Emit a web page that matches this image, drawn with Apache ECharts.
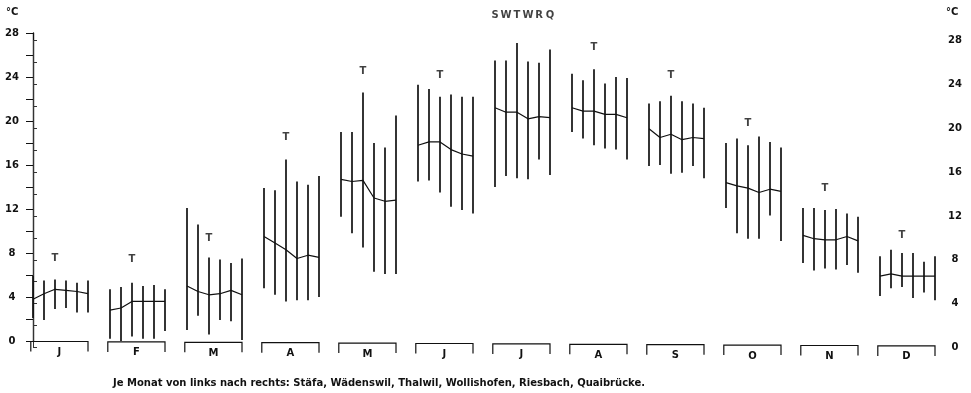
<!DOCTYPE html>
<html>
<head>
<meta charset="utf-8">
<script src="https://cdn.jsdelivr.net/npm/echarts@6/dist/echarts.min.js"></script>
<style>
  html, body { margin: 0; padding: 0; background: #fff; }
  #chart { width: 971px; height: 393px; }
</style>
</head>
<body>
<div id="chart"></div>
<script>
// Monthly water temperatures (°C) at six stations along the lake shore.
const months = ['J', 'F', 'M', 'A', 'M', 'J', 'J', 'A', 'S', 'O', 'N', 'D'];
const stations = ['Stäfa', 'Wädenswil', 'Thalwil', 'Wollishofen', 'Riesbach', 'Quaibrücke'];

// Highest value per month, one entry per station (left to right)
const tMax = [
  [5.9, 5.5, 5.6, 5.5, 5.3, 5.5],
  [4.7, 4.9, 5.3, 5.0, 5.1, 4.7],
  [12.1, 10.6, 7.6, 7.4, 7.1, 7.5],
  [13.9, 13.7, 16.5, 14.5, 14.2, 15.0],
  [19.0, 19.0, 22.6, 18.0, 17.6, 20.5],
  [23.3, 22.9, 22.2, 22.4, 22.2, 22.2],
  [25.5, 25.5, 27.1, 25.4, 25.3, 26.5],
  [24.3, 23.7, 24.7, 23.4, 24.0, 23.9],
  [21.6, 21.8, 22.3, 21.8, 21.6, 21.2],
  [18.0, 18.4, 17.8, 18.6, 18.1, 17.6],
  [12.1, 12.1, 11.9, 12.0, 11.6, 11.3],
  [7.7, 8.3, 8.0, 8.0, 7.2, 7.7]
];

// Lowest value per month
const tMin = [
  [2.1, 1.9, 2.9, 3.0, 2.6, 2.6],
  [0.2, 0.0, 0.4, 0.2, 0.2, 0.9],
  [1.0, 2.3, 0.6, 1.9, 1.8, 0.1],
  [4.8, 4.2, 3.6, 3.7, 3.7, 4.0],
  [11.3, 9.8, 8.5, 6.3, 6.1, 6.1],
  [14.5, 14.6, 13.5, 12.2, 11.9, 11.6],
  [14.0, 15.0, 14.8, 14.7, 16.5, 15.1],
  [19.0, 18.4, 17.8, 17.5, 17.4, 16.5],
  [15.9, 16.0, 15.2, 15.3, 15.9, 14.8],
  [12.1, 9.8, 9.3, 9.3, 11.4, 9.1],
  [7.1, 6.4, 6.6, 6.5, 6.9, 6.2],
  [4.1, 4.8, 4.9, 3.9, 4.4, 3.7]
];

// Monthly mean
const tMean = [
  [3.8, 4.3, 4.7, 4.6, 4.5, 4.3],
  [2.8, 3.0, 3.6, 3.6, 3.6, 3.6],
  [5.0, 4.5, 4.2, 4.3, 4.6, 4.2],
  [9.5, 8.9, 8.3, 7.5, 7.8, 7.6],
  [14.7, 14.5, 14.6, 13.0, 12.7, 12.8],
  [17.8, 18.1, 18.1, 17.4, 17.0, 16.8],
  [21.2, 20.8, 20.8, 20.2, 20.4, 20.3],
  [21.2, 20.9, 20.9, 20.6, 20.6, 20.3],
  [19.3, 18.5, 18.8, 18.3, 18.5, 18.4],
  [14.4, 14.1, 13.9, 13.5, 13.8, 13.6],
  [9.6, 9.3, 9.2, 9.2, 9.5, 9.1],
  [5.9, 6.1, 5.9, 5.9, 5.9, 5.9]
];

// Height of the "T" marker above each month group (none in July)
const tMarkY = [7.5, 7.4, 9.3, 18.5, 24.5, 24.1, null, 26.7, 24.1, 19.8, 13.9, 9.6];

// Axis ticks
const yMin = 0, yMax = 28, yStep = 2, yLabelStep = 4;

// Layout of the x scale: six stations per month, one empty slot between months
const SLOT = 7;
const xOf = (m, s) => m * SLOT + s;

const FONT = 'DejaVu Sans';
const INK = '#111';

// Build series data
const rangeData = [];
tMax.forEach((row, m) => row.forEach((hi, s) => rangeData.push([xOf(m, s), tMin[m][s], hi])));

const meanSeries = tMean.map((row, m) => ({
  type: 'line',
  xAxisIndex: 0, yAxisIndex: 0,
  data: row.map((v, s) => [xOf(m, s), v]),
  symbol: 'none',
  lineStyle: { color: INK, width: 1.2 },
  silent: true,
  z: 3
}));

const tMarkData = [];
tMarkY.forEach((v, m) => { if (v !== null) tMarkData.push([xOf(m, 2), v]); });

const initialsData = stations.map((name, s) => [xOf(6, s), 29.6, name.charAt(0)]);

const monthData = months.map((lab, m) => [m, lab]);

const chart = echarts.init(document.getElementById('chart'), null, { renderer: 'canvas' });

const labelFmt = v => (v % yLabelStep === 0 ? String(v) : '');

const txt = { fontFamily: FONT, fontSize: 10, fontWeight: 'bold', color: INK };

chart.setOption({
  animation: false,
  backgroundColor: '#fff',
  grid: [
    { left: 33, right: 36, top: 33, bottom: 52 },
    { left: 33, right: 35, top: 40.5, bottom: 45.5 }
  ],
  xAxis: [
    { type: 'value', gridIndex: 0, min: 0, max: xOf(11, 5), show: false },
    { type: 'value', gridIndex: 1, min: 0, max: 1, show: false }
  ],
  yAxis: [
    {
      type: 'value', gridIndex: 0, position: 'left',
      min: yMin, max: yMax, interval: yStep,
      splitLine: { show: false },
      axisLine: { show: true, lineStyle: { color: INK, width: 1.4 } },
      axisTick: { show: true, length: 7, lineStyle: { color: INK, width: 1 } },
      axisLabel: Object.assign({ formatter: labelFmt, margin: 21, align: 'center' }, txt)
    },
    {
      type: 'value', gridIndex: 1, position: 'right',
      min: yMin, max: yMax, interval: yStep,
      splitLine: { show: false },
      axisLine: { show: true, lineStyle: { color: '#333', width: 1 } },
      axisTick: { show: true, length: 4, lineStyle: { color: '#333', width: 1 } },
      axisLabel: Object.assign({ formatter: labelFmt, margin: 19, align: 'center' }, txt)
    }
  ],
  graphic: [
    { type: 'text', left: 6, top: 7, style: { text: '°C', font: 'bold 10px "DejaVu Sans"', fill: INK } },
    { type: 'text', left: 946, top: 7, style: { text: '°C', font: 'bold 10px "DejaVu Sans"', fill: INK } },
    {
      type: 'text', left: 113, top: 378,
      style: {
        text: 'Je Monat von links nach rechts: ' + stations.join(', ') + '.',
        font: 'bold 10px "DejaVu Sans"', fill: INK
      }
    }
  ],
  series: [
    // vertical min–max bars
    {
      type: 'custom',
      xAxisIndex: 0, yAxisIndex: 0,
      data: rangeData,
      encode: { x: 0, y: [1, 2] },
      silent: true,
      z: 2,
      renderItem: (params, api) => {
        const p1 = api.coord([api.value(0), api.value(1)]);
        const p2 = api.coord([api.value(0), api.value(2)]);
        return {
          type: 'line',
          shape: { x1: p1[0], y1: p1[1], x2: p2[0], y2: p2[1] },
          style: { stroke: INK, lineWidth: 1.7 }
        };
      }
    },
    ...meanSeries,
    // month brackets with letters below the baseline
    {
      type: 'custom',
      xAxisIndex: 0, yAxisIndex: 0,
      data: monthData,
      silent: true,
      clip: false,
      renderItem: (params, api) => {
        const m = api.value(0);
        const a = api.coord([xOf(m, 0) - 0.2, 0]);
        const b = api.coord([xOf(m, 5), 0]);
        const y = a[1] + 0.5 + m * 0.4;
        return {
          type: 'group',
          children: [
            {
              type: 'polyline',
              shape: { points: [[a[0], y + 10], [a[0], y], [b[0], y], [b[0], y + 10]] },
              style: { stroke: INK, lineWidth: 1.2, fill: null }
            },
            {
              type: 'text',
              style: {
                text: months[m], x: (a[0] + b[0]) / 2, y: y + 11,
                align: 'center', verticalAlign: 'middle',
                font: 'bold 10px "DejaVu Sans"', fill: INK
              }
            }
          ]
        };
      }
    },
    // "T" markers
    {
      type: 'scatter',
      xAxisIndex: 0, yAxisIndex: 0,
      data: tMarkData,
      symbolSize: 0,
      silent: true,
      label: Object.assign({ show: true, position: 'inside', formatter: 'T' }, txt)
    },
    // station initials above the July group
    {
      type: 'scatter',
      xAxisIndex: 0, yAxisIndex: 0,
      data: initialsData,
      symbolSize: 0,
      clip: false,
      silent: true,
      label: Object.assign({ show: true, position: 'inside', formatter: p => p.value[2] }, txt)
    }
  ]
});
</script>
</body>
</html>
